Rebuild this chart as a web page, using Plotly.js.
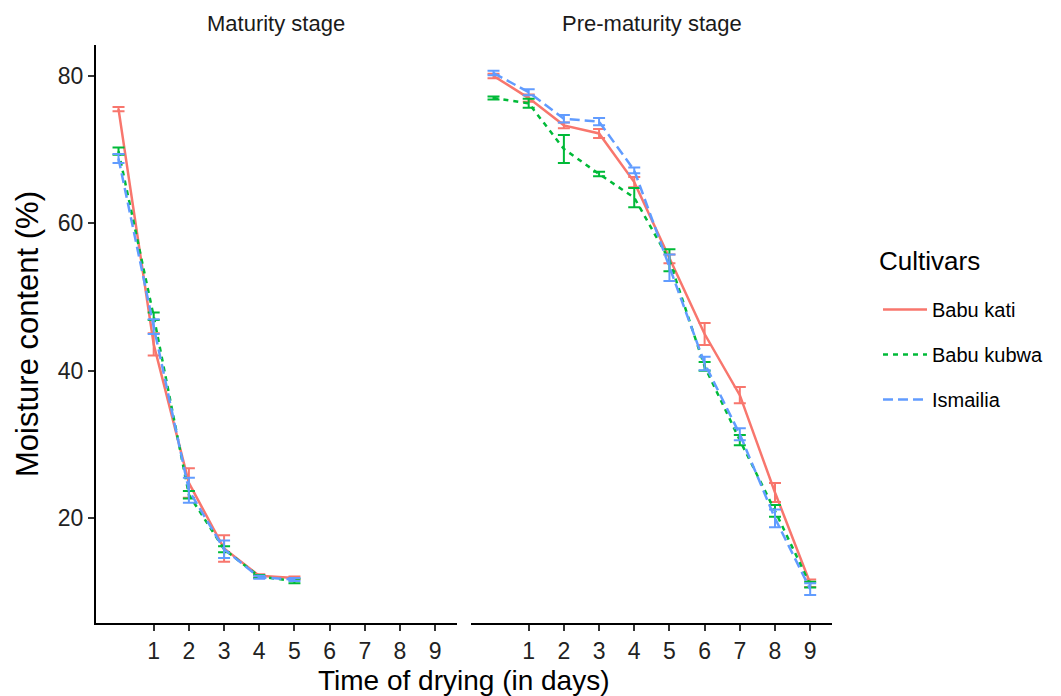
<!DOCTYPE html>
<html>
<head>
<meta charset="utf-8">
<script src="https://cdn.plot.ly/plotly-3.0.1.min.js"></script>
<style>html,body{margin:0;padding:0;background:#fff;}#chart{width:1061px;height:696px;}</style>
</head>
<body>
<div id="chart"></div>
<script>
// Data
const cultivars = ["Babu kati", "Babu kubwa", "Ismailia"];
const stages = ["Maturity stage", "Pre-maturity stage"];
const daysMaturity = [0, 1, 2, 3, 4, 5];
const daysPreMaturity = [0, 1, 2, 3, 4, 5, 6, 7, 8, 9];

const matKati = [75.5, 43.6, 24.8, 15.9, 12.2, 11.9];
const matKatiErr = [0.3, 1.5, 2.0, 1.8, 0.2, 0.2];
const matKubwa = [69.8, 47.4, 23.2, 15.8, 12.1, 11.5];
const matKubwaErr = [0.5, 0.5, 0.5, 0.4, 0.2, 0.3];
const matIsmailia = [68.8, 46.0, 23.8, 15.8, 12.0, 11.7];
const matIsmailiaErr = [0.6, 1.0, 1.7, 1.2, 0.2, 0.2];

const preKati = [80.0, 77.0, 73.3, 72.2, 65.6, 55.2, 45.0, 36.7, 23.5, 11.2];
const preKatiErr = [0.3, 0.5, 0.4, 0.6, 0.7, 0.6, 1.5, 1.1, 1.3, 0.5];
const preKubwa = [77.0, 76.3, 70.1, 66.7, 63.5, 55.0, 40.6, 30.6, 21.0, 11.0];
const preKubwaErr = [0.2, 0.6, 1.9, 0.3, 1.3, 1.5, 0.6, 0.7, 0.8, 0.4];
const preIsmailia = [80.4, 77.8, 74.2, 73.8, 67.2, 54.0, 41.0, 31.4, 20.0, 10.4];
const preIsmailiaErr = [0.3, 0.4, 0.5, 0.5, 0.4, 1.8, 0.9, 0.8, 1.2, 0.8];

const xTicks = [1, 2, 3, 4, 5, 6, 7, 8, 9];
const yTicks = [20, 40, 60, 80];

const colors = ["#F8766D", "#00BA38", "#619CFF"];
const dashes = ["solid", "5px,5px", "10px,5px"];

const matData = [[matKati, matKatiErr], [matKubwa, matKubwaErr], [matIsmailia, matIsmailiaErr]];
const preData = [[preKati, preKatiErr], [preKubwa, preKubwaErr], [preIsmailia, preIsmailiaErr]];

const traces = [];
cultivars.forEach((name, i) => {
  traces.push({
    type: "scatter", mode: "lines", name: name, legendgroup: name, showlegend: true,
    x: daysMaturity, y: matData[i][0], xaxis: "x", yaxis: "y",
    line: {color: colors[i], width: 2.5, dash: dashes[i]},
    error_y: {type: "data", array: matData[i][1], visible: true, color: colors[i], thickness: 2, width: 6}
  });
  traces.push({
    type: "scatter", mode: "lines", name: name, legendgroup: name, showlegend: false,
    x: daysPreMaturity, y: preData[i][0], xaxis: "x2", yaxis: "y2",
    line: {color: colors[i], width: 2.5, dash: dashes[i]},
    error_y: {type: "data", array: preData[i][1], visible: true, color: colors[i], thickness: 2, width: 6}
  });
});

const font = "Liberation Sans, Arial, sans-serif";
const xBase = {
  range: [-0.64, 9.62], tickvals: xTicks, ticktext: xTicks.map(String),
  showline: true, linecolor: "#000", linewidth: 2, ticks: "outside", ticklen: 6,
  tickwidth: 2, tickcolor: "#333", showgrid: false, zeroline: false,
  tickfont: {family: font, size: 23, color: "#222"}
};
const layout = {
  width: 1061, height: 696,
  margin: {l: 96, r: 229, t: 45, b: 73},
  paper_bgcolor: "#fff", plot_bgcolor: "#fff",
  font: {family: font, color: "#000"},
  xaxis: Object.assign({}, xBase, {domain: [0, 0.4905], anchor: "y"}),
  xaxis2: Object.assign({}, xBase, {domain: [0.5095, 1], anchor: "y2"}),
  yaxis: {
    range: [5.8, 84.2], tickvals: yTicks, showline: true, linecolor: "#000", linewidth: 2,
    ticks: "outside", ticklen: 6, tickwidth: 2, tickcolor: "#333", showgrid: false, zeroline: false,
    tickfont: {family: font, size: 23, color: "#222"}, anchor: "x",
    title: {text: "Moisture content (%)", font: {family: font, size: 31, color: "#000"}, standoff: 10}
  },
  yaxis2: {
    range: [5.8, 84.2], matches: "y", showline: false, showticklabels: false, ticks: "",
    showgrid: false, zeroline: false, anchor: "x2"
  },
  showlegend: true,
  legend: {
    xref: "container", yref: "container",
    x: 878 / 1061, y: 1 - 290 / 696, xanchor: "left", yanchor: "top",
    font: {family: font, size: 20, color: "#000"},
    tracegroupgap: 16, itemwidth: 44, bgcolor: "rgba(0,0,0,0)"
  },
  annotations: [
    {text: stages[0], xref: "paper", yref: "paper", x: 0.245, y: 1, yshift: 22, showarrow: false,
     font: {family: font, size: 22, color: "#1a1a1a"}, xanchor: "center", yanchor: "middle"},
    {text: stages[1], xref: "paper", yref: "paper", x: 0.755, y: 1, yshift: 22, showarrow: false,
     font: {family: font, size: 22, color: "#1a1a1a"}, xanchor: "center", yanchor: "middle"},
    {text: "Time of drying (in days)", xref: "paper", yref: "paper", x: 0.5, y: 0, yshift: -57, showarrow: false,
     font: {family: font, size: 28, color: "#000"}, xanchor: "center", yanchor: "middle"},
    {text: "Cultivars", xref: "paper", yref: "paper", x: 1.0615, y: 1, yshift: -(261 - 45), showarrow: false,
     font: {family: font, size: 26, color: "#000"}, xanchor: "left", yanchor: "middle"}
  ]
};

Plotly.newPlot("chart", traces, layout, {displayModeBar: false, staticPlot: true});
</script>
</body>
</html>
